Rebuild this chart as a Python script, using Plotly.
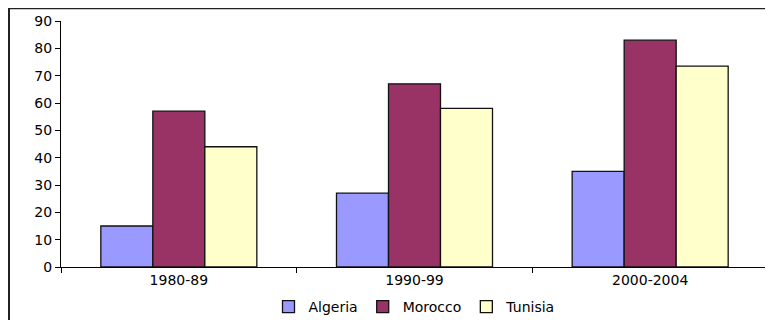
import plotly.graph_objects as go

periods = ["1980-89", "1990-99", "2000-2004"]
algeria = [15, 27, 35]
morocco = [57, 67, 83]
tunisia = [44, 58, 73.5]

series = [
    ("Algeria", algeria, "#9999FF"),
    ("Morocco", morocco, "#993366"),
    ("Tunisia", tunisia, "#FFFFCC"),
]

fig = go.Figure()
for name, vals, col in series:
    fig.add_trace(go.Bar(
        name=name, x=periods, y=vals,
        marker=dict(color=col, line=dict(color="#111111", width=1.3)),
    ))

# the page body has an 8px margin, so the figure is drawn from (8, 8)
W, H = 765, 312
ml, mr, mt, mb = 53, 5, 13, 53
pw = W - ml - mr
ph = H - mt - mb

def px_x(px):
    return (px - ml) / pw

def px_y(py):
    return (H - mb - py) / ph

fig.update_layout(
    width=W, height=H,
    margin=dict(l=ml, r=mr, t=mt, b=mb, pad=0, autoexpand=False),
    paper_bgcolor="white", plot_bgcolor="white",
    barmode="group", bargap=0.338, bargroupgap=0,
    font=dict(family="DejaVu Sans", size=13, color="black"),
    showlegend=True,
    legend=dict(orientation="h", x=0.5, xanchor="center",
                y=px_y(299), yanchor="middle",
                font=dict(size=14), itemwidth=30, tracegroupgap=0,
                bgcolor="rgba(0,0,0,0)"),
    xaxis=dict(showline=True, linecolor="black", linewidth=1,
               ticks="outside", ticklen=5, tickcolor="black",
               tickson="boundaries", showgrid=False,
               tickfont=dict(size=14), fixedrange=True),
    yaxis=dict(range=[0, 90], dtick=10, showline=True, linecolor="black",
               linewidth=1, ticks="outside", ticklen=5, tickcolor="black",
               showgrid=False, zeroline=False, tickfont=dict(size=14),
               fixedrange=True),
    shapes=[
        dict(type="line", xref="paper", yref="paper",
             x0=px_x(0), x1=px_x(W + 20), y0=px_y(0.3), y1=px_y(0.3),
             line=dict(color="#222222", width=2)),
        dict(type="line", xref="paper", yref="paper",
             x0=px_x(1), x1=px_x(1), y0=px_y(0), y1=px_y(H + 20),
             line=dict(color="#222222", width=2)),
    ],
)

fig.write_html("out.html")
